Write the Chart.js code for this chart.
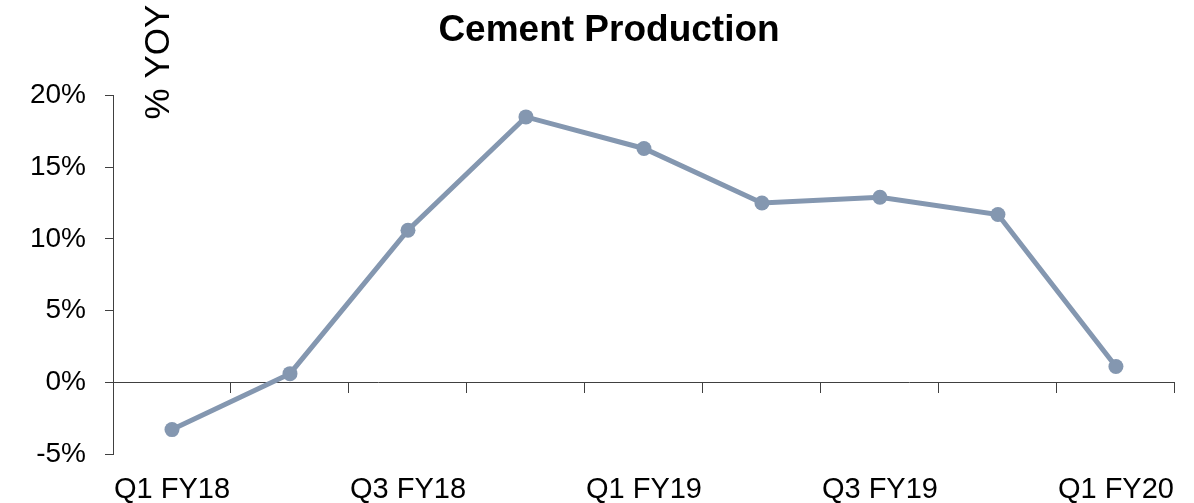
<!DOCTYPE html>
<html>
<head>
<meta charset="utf-8">
<script src="https://cdn.jsdelivr.net/npm/chart.js@4/dist/chart.umd.min.js"></script>
<style>
  html, body { margin: 0; padding: 0; background: #fff; }
  #wrap { width: 1194px; height: 503px; }
</style>
</head>
<body>
<div id="wrap"><canvas id="lineChart"></canvas></div>
<script>
// quarters and YoY growth (%)
const quarters = ['Q1 FY18', 'Q2 FY18', 'Q3 FY18', 'Q4 FY18', 'Q1 FY19', 'Q2 FY19', 'Q3 FY19', 'Q4 FY19', 'Q1 FY20'];
const yoyGrowth = [-3.3, 0.6, 10.6, 18.5, 16.3, 12.5, 12.9, 11.7, 1.1];
const yTicks = [-5, 0, 5, 10, 15, 20];

const lineColor = '#8497b0';
const font = 'Liberation Sans, Arial, sans-serif';

// draws the rotated "% YOY" label next to the top of the y axis
const yoyLabel = {
    id: 'yoyLabel',
    afterDraw(chart) {
        const ctx = chart.ctx;
        ctx.save();
        ctx.translate(chart.chartArea.left + 46, 62);
        ctx.rotate(-Math.PI / 2);
        ctx.font = '35px ' + font;
        ctx.fillStyle = '#000';
        ctx.textAlign = 'center';
        ctx.textBaseline = 'middle';
        ctx.fillText('% YOY', 0, 0);
        ctx.restore();
    }
};

var ctx = document.getElementById('lineChart').getContext('2d');
var chart = new Chart(ctx, {
    type: 'line',
    data: {
        labels: quarters,
        datasets: [{
            data: yoyGrowth,
            borderColor: lineColor,
            backgroundColor: lineColor,
            borderWidth: 5,
            pointRadius: 7.5,
            pointBackgroundColor: lineColor,
            pointBorderWidth: 0,
            tension: 0,
            xAxisID: 'x'
        }]
    },
    options: {
        responsive: true,
        maintainAspectRatio: false,
        animation: false,
        layout: { padding: { left: 29, right: 5, top: 0, bottom: 0 } },
        plugins: {
            legend: { display: false },
            tooltip: { enabled: false },
            title: {
                display: true,
                text: 'Cement Production',
                color: '#000',
                font: { family: font, size: 37, weight: 'bold' },
                padding: { top: 9, bottom: 42 }
            }
        },
        scales: {
            // axis line at 0 with tick marks between quarters
            x: {
                type: 'category',
                position: { y: 0 },
                offset: true,
                afterFit: (s) => { s.height = 0; },
                grid: { offset: true, drawOnChartArea: false, drawTicks: true, tickLength: 10, color: '#404040', lineWidth: 1 },
                border: { display: true, color: '#404040', width: 1 },
                ticks: { display: false }
            },
            // labels at the bottom, every other quarter
            xLabels: {
                type: 'category',
                labels: quarters,
                position: 'bottom',
                offset: true,
                afterFit: (s) => { s.height = 49; },
                grid: { display: false, drawTicks: false },
                border: { display: false },
                ticks: {
                    autoSkip: false,
                    maxRotation: 0,
                    padding: 19,
                    color: '#000',
                    font: { family: font, size: 29 },
                    callback: function (v, i) { return i % 2 === 0 ? quarters[i] : ''; }
                }
            },
            y: {
                min: -5,
                max: 20,
                afterBuildTicks: (axis) => { axis.ticks = yTicks.map(v => ({ value: v })); },
                afterFit: (s) => { s.width = 84; s.paddingTop = 0; s.paddingBottom = 0; },
                grid: { drawOnChartArea: false, drawTicks: true, tickLength: 8, color: '#404040' },
                border: { display: true, color: '#404040', width: 1 },
                ticks: {
                    padding: 19,
                    color: '#000',
                    font: { family: font, size: 28 },
                    callback: (v) => v + '%'
                }
            },
            // empty right-hand spacer so the title centres like the original
            spacer: {
                type: 'linear',
                position: 'right',
                display: true,
                afterFit: (s) => { s.width = 14; },
                grid: { display: false },
                border: { display: false },
                ticks: { display: false }
            }
        }
    },
    plugins: [yoyLabel]
});
</script>
</body>
</html>
